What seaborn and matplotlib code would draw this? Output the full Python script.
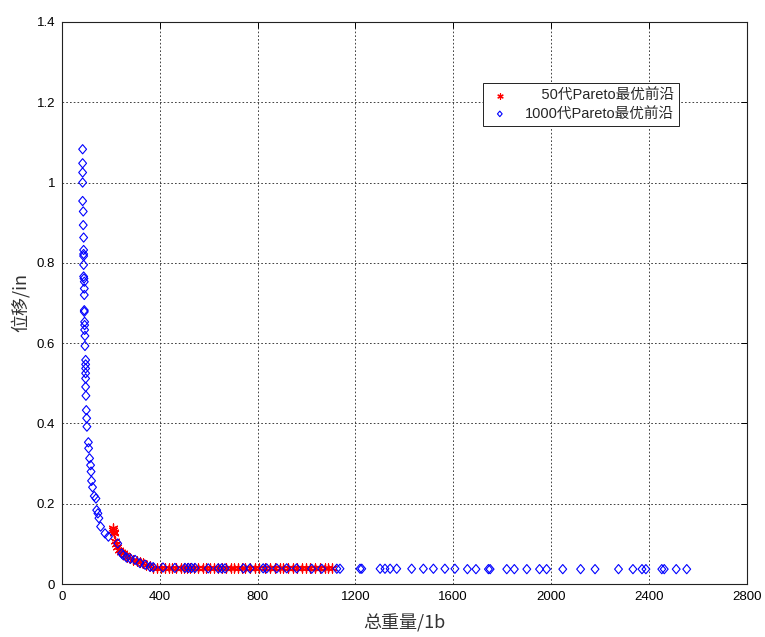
import matplotlib
matplotlib.use("Agg")
import matplotlib.pyplot as plt
from matplotlib.path import Path
import seaborn as sns
import pandas as pd
import numpy as np

# ---- data ----
blue_x = [84.5, 84.5, 84.5, 84.5, 84.5, 87, 87, 88.6, 88.6, 88.6, 88.6, 88.6, 88.6, 90, 91.3,
          91.3, 91.3, 91.3, 91.3, 92.7, 92.7, 92.7, 94, 94, 96.8, 96.8, 96.8, 96.8, 96.8, 96.8,
          98, 99.5, 101, 102, 108, 109, 113, 117, 119, 121, 125, 132, 139, 142, 147, 151, 158,
          176, 190, 228, 244, 250, 264, 280, 299, 319, 340, 360, 373,
          413, 462, 503, 517, 530, 544, 598, 639, 653, 667, 742, 769, 823, 837, 878, 919, 960,
          1021, 1062, 1124, 1137, 1219, 1226, 1301, 1321, 1342, 1369, 1430, 1478, 1519, 1566,
          1607, 1658, 1693, 1744, 1751, 1819, 1850, 1901, 1953, 1982, 2048, 2121, 2180, 2276,
          2335, 2372, 2388, 2453, 2463, 2512, 2555]
blue_y = [1.083, 1.048, 1.025, 1.000, 0.954, 0.928, 0.894, 0.863, 0.832, 0.822, 0.817, 0.795,
          0.766, 0.761, 0.753, 0.736, 0.720, 0.682, 0.678, 0.653, 0.645, 0.633, 0.618, 0.593,
          0.558, 0.547, 0.537, 0.525, 0.512, 0.491, 0.469, 0.433, 0.413, 0.392, 0.353, 0.338,
          0.313, 0.296, 0.280, 0.257, 0.241, 0.219, 0.213, 0.184, 0.176, 0.164, 0.143, 0.126,
          0.118, 0.101, 0.076, 0.072, 0.066, 0.063, 0.060, 0.052, 0.048, 0.043, 0.042,
          0.041, 0.040, 0.040, 0.040, 0.040, 0.040, 0.039, 0.039, 0.039, 0.039, 0.039, 0.039,
          0.039, 0.039, 0.039, 0.039, 0.039, 0.038, 0.038, 0.038, 0.038, 0.038, 0.038, 0.038,
          0.038, 0.038, 0.038, 0.038, 0.038, 0.038, 0.038, 0.038, 0.037, 0.037, 0.037, 0.037,
          0.037, 0.037, 0.037, 0.037, 0.037, 0.037, 0.037, 0.037, 0.037, 0.037, 0.037, 0.037,
          0.037, 0.037, 0.037, 0.037]
red_x = [207, 210, 213, 211, 218, 220, 226, 232, 240, 248, 258, 268, 280, 292, 305, 318, 330,
         345, 358, 372, 390, 405, 420, 438, 450, 468, 485, 500, 512, 525, 540, 555, 575, 590,
         605, 620, 640, 655, 670, 690, 705, 720, 735, 750, 770, 790, 805, 830, 850, 870, 890,
         905, 925, 945, 960, 980, 1000, 1015, 1035, 1055, 1075, 1090, 1105]
red_y = [0.140, 0.135, 0.130, 0.126, 0.108, 0.100, 0.092, 0.085, 0.080, 0.076, 0.072, 0.068,
         0.064, 0.061, 0.058, 0.055, 0.052, 0.048, 0.044, 0.041, 0.041, 0.040, 0.040, 0.040,
         0.040, 0.040, 0.040, 0.040, 0.040, 0.040, 0.040, 0.040, 0.040, 0.040, 0.040, 0.040,
         0.039, 0.039, 0.039, 0.039, 0.039, 0.039, 0.039, 0.039, 0.039, 0.039, 0.039, 0.039,
         0.039, 0.039, 0.039, 0.039, 0.039, 0.039, 0.039, 0.039, 0.039, 0.039, 0.039, 0.039,
         0.039, 0.039, 0.039]
x_ticks = [0, 400, 800, 1200, 1600, 2000, 2400, 2800]
y_ticks = [0, 0.2, 0.4, 0.6, 0.8, 1.0, 1.2, 1.4]
y_tick_labels = ["0", "0.2", "0.4", "0.6", "0.8", "1", "1.2", "1.4"]
label_red = "    50代Pareto最优前沿"
label_blue = "1000代Pareto最优前沿"
x_label = "总重量/1b"
y_label = "位移/in"

sns.set_style("white")
plt.rcParams['font.family'] = ['Liberation Sans', 'Noto Sans CJK SC', 'DejaVu Sans']

fig = plt.figure(figsize=(7.65, 6.37), dpi=100)
ax = fig.add_axes([0.081, 0.0832, 0.895, 0.8823])

df_red = pd.DataFrame({"x": red_x, "y": red_y})
df_blue = pd.DataFrame({"x": blue_x, "y": blue_y})

diamond = Path([(0, 1), (0.85, 0), (0, -1), (-0.85, 0), (0, 1)],
               [Path.MOVETO, Path.LINETO, Path.LINETO, Path.LINETO, Path.CLOSEPOLY])

sns.scatterplot(data=df_red, x="x", y="y", ax=ax, marker=(6, 2, 0), s=42,
                color="red", linewidth=0.9, label=label_red, zorder=3)
sns.scatterplot(data=df_blue, x="x", y="y", ax=ax, marker=diamond, s=44,
                facecolor="none", edgecolor="blue", linewidth=0.8, label=label_blue, zorder=4)

ax.set_xlim(0, 2800)
ax.set_ylim(0, 1.4)
ax.set_xticks(x_ticks)
ax.set_xticklabels([str(t) for t in x_ticks])
ax.set_yticks(y_ticks)
ax.set_yticklabels(y_tick_labels)
ax.tick_params(direction="in", length=4, width=0.7, labelsize=9.5, colors="black",
               top=True, right=True, pad=5)
for sp in ax.spines.values():
    sp.set_color("#222222")
    sp.set_linewidth(0.8)
ax.grid(True, color="#222222", linestyle=(0, (2, 2.5)), linewidth=0.6)
ax.set_axisbelow(True)

ax.set_xlabel(x_label, fontsize=13, color="#333333", labelpad=8,
              family=['Noto Sans CJK SC', 'DejaVu Sans'])
ax.set_ylabel(y_label, fontsize=13, color="#333333", labelpad=5,
              family=['Noto Sans CJK SC', 'DejaVu Sans'])

leg = ax.legend(loc="upper left", bbox_to_anchor=(0.615, 0.891), borderaxespad=0,
                frameon=True, fancybox=False, edgecolor="#222222", framealpha=1,
                fontsize=10.5, handletextpad=0.9, borderpad=0.35, labelspacing=0.3,
                handlelength=1.6, markerscale=0.6)
leg.get_frame().set_linewidth(0.7)

fig.savefig("out.png", dpi=100, facecolor="white")
